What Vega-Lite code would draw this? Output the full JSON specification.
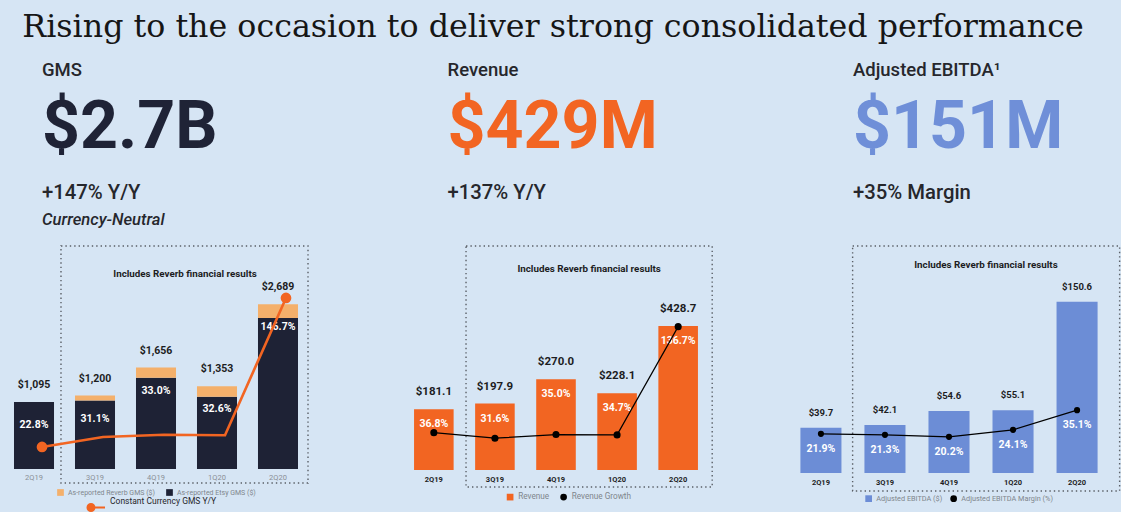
{
  "$schema": "https://vega.github.io/schema/vega-lite/v6.json",
  "background": "#d6e5f4",
  "padding": 0,
  "config": {
    "font": "Roboto",
    "view": {"stroke": null},
    "axis": {"domain": false, "ticks": false, "grid": false, "title": null, "labelAngle": 0, "labelFont": "Roboto"},
    "legend": {"labelFont": "Roboto", "labelColor": "#80858c", "orient": "none", "direction": "horizontal", "title": null, "padding": 0, "symbolSize": 45, "symbolType": "square", "labelOffset": 4, "gridAlign": "none", "rowPadding": 1}
  },
  "datasets": {
    "header": [
      {"panel": "All", "line": "title", "label": "Rising to the occasion to deliver strong consolidated performance"},
      {"panel": "GMS", "line": "name", "label": "GMS"},
      {"panel": "Revenue", "line": "name", "label": "Revenue"},
      {"panel": "EBITDA", "line": "name", "label": "Adjusted EBITDA¹"},
      {"panel": "GMS", "line": "value", "label": "$2.7B"},
      {"panel": "Revenue", "line": "value", "label": "$429M"},
      {"panel": "EBITDA", "line": "value", "label": "$151M"},
      {"panel": "GMS", "line": "change", "label": "+147% Y/Y"},
      {"panel": "Revenue", "line": "change", "label": "+137% Y/Y"},
      {"panel": "EBITDA", "line": "change", "label": "+35% Margin"},
      {"panel": "GMS", "line": "note", "label": "Currency-Neutral"}
    ],
    "gms_parts": [
      {"q": "2Q19", "series": "As-reported Etsy GMS ($)", "value": 1095},
      {"q": "3Q19", "series": "As-reported Etsy GMS ($)", "value": 1120},
      {"q": "3Q19", "series": "As-reported Reverb GMS ($)", "value": 80},
      {"q": "4Q19", "series": "As-reported Etsy GMS ($)", "value": 1491},
      {"q": "4Q19", "series": "As-reported Reverb GMS ($)", "value": 165},
      {"q": "1Q20", "series": "As-reported Etsy GMS ($)", "value": 1178},
      {"q": "1Q20", "series": "As-reported Reverb GMS ($)", "value": 175},
      {"q": "2Q20", "series": "As-reported Etsy GMS ($)", "value": 2465},
      {"q": "2Q20", "series": "As-reported Reverb GMS ($)", "value": 224}
    ],
    "gms": [
      {"q": "2Q19", "total": 1095, "growth": 0.228},
      {"q": "3Q19", "total": 1200, "growth": 0.311},
      {"q": "4Q19", "total": 1656, "growth": 0.330},
      {"q": "1Q20", "total": 1353, "growth": 0.326},
      {"q": "2Q20", "total": 2689, "growth": 1.467}
    ],
    "revenue": [
      {"q": "2Q19", "revenue": 181.1, "growth": 0.368},
      {"q": "3Q19", "revenue": 197.9, "growth": 0.316},
      {"q": "4Q19", "revenue": 270.0, "growth": 0.350},
      {"q": "1Q20", "revenue": 228.1, "growth": 0.347},
      {"q": "2Q20", "revenue": 428.7, "growth": 1.367}
    ],
    "ebitda": [
      {"q": "2Q19", "ebitda": 39.7, "margin": 0.219},
      {"q": "3Q19", "ebitda": 42.1, "margin": 0.213},
      {"q": "4Q19", "ebitda": 54.6, "margin": 0.202},
      {"q": "1Q20", "ebitda": 55.1, "margin": 0.241},
      {"q": "2Q20", "ebitda": 150.6, "margin": 0.351}
    ],
    "note": [{"note": "Includes Reverb financial results"}]
  },
  "bounds": "flush",
  "spacing": 0,
  "resolve": {"scale": {"color": "independent", "stroke": "independent"}, "legend": {"color": "independent", "stroke": "independent"}},
  "vconcat": [
    {
      "width": 1106,
      "height": 246,
      "data": {"name": "header"},
      "encoding": {
        "y": {"field": "line", "type": "nominal", "scale": {"type": "point", "domain": ["title", "name", "value", "change", "note"], "range": [37, 225], "padding": 0}, "axis": null}
      },
      "layer": [
        {
          "transform": [{"filter": "datum.line === 'title'"}],
          "mark": {"type": "text", "font": "DejaVu Serif", "fontSize": 31.7, "align": "center", "baseline": "alphabetic", "color": "#161616"},
          "encoding": {"text": {"field": "label"}}
        },
        {
          "transform": [{"filter": "datum.line === 'name'"}],
          "mark": {"type": "text", "fontSize": 18.5, "fontWeight": 500, "align": "left", "baseline": "alphabetic", "dy": -8, "color": "#26272c"},
          "encoding": {
            "x": {"field": "panel", "type": "nominal", "scale": {"type": "point", "domain": ["GMS", "Revenue", "EBITDA"], "range": [42, 853], "padding": 0}, "axis": null},
            "text": {"field": "label"}
          }
        },
        {
          "transform": [{"filter": "datum.line === 'value'"}],
          "mark": {"type": "text", "fontSize": 66.3, "fontWeight": 700, "align": "left", "baseline": "alphabetic", "dy": 17},
          "encoding": {
            "x": {"field": "panel", "type": "nominal", "scale": {"type": "point", "domain": ["GMS", "Revenue", "EBITDA"], "range": [42, 853], "padding": 0}, "axis": null},
            "text": {"field": "label"},
            "color": {"field": "panel", "type": "nominal", "scale": {"domain": ["GMS", "Revenue", "EBITDA"], "range": ["#1f2336", "#f26522", "#6f8fd8"]}, "legend": null}
          }
        },
        {
          "transform": [{"filter": "datum.line === 'change'"}],
          "mark": {"type": "text", "fontSize": 20.3, "fontWeight": 500, "align": "left", "baseline": "alphabetic", "dy": 21, "color": "#26272c"},
          "encoding": {
            "x": {"field": "panel", "type": "nominal", "scale": {"type": "point", "domain": ["GMS", "Revenue", "EBITDA"], "range": [42, 853], "padding": 0}, "axis": null},
            "text": {"field": "label"}
          }
        },
        {
          "transform": [{"filter": "datum.line === 'note'"}],
          "mark": {"type": "text", "fontSize": 16.6, "fontWeight": 500, "fontStyle": "italic", "align": "left", "baseline": "alphabetic", "color": "#26272c"},
          "encoding": {
            "x": {"field": "panel", "type": "nominal", "scale": {"type": "point", "domain": ["GMS", "Revenue", "EBITDA"], "range": [42, 853], "padding": 0}, "axis": null},
            "text": {"field": "label"}
          }
        }
      ]
    },
    {
      "bounds": "flush",
      "spacing": 88,
      "resolve": {"scale": {"color": "independent", "stroke": "independent"}, "legend": {"color": "independent", "stroke": "independent"}},
      "hconcat": [
        {
          "width": 312,
          "height": 223,
          "encoding": {
            "x": {"field": "q", "type": "nominal", "sort": null, "scale": {"domain": ["2Q19", "3Q19", "4Q19", "1Q20", "2Q20"], "paddingInner": 0.344, "paddingOuter": 0.2295}, "axis": {"labelColor": "#8a8f96", "labelFontSize": 7.5, "labelPadding": 4}}
          },
          "resolve": {"scale": {"y": "independent"}},
          "layer": [
            {
              "layer": [
                {
                  "data": {"name": "gms_parts"},
                  "mark": {"type": "bar"},
                  "encoding": {
                    "y": {"field": "value", "type": "quantitative", "stack": "zero", "scale": {"domain": [0, 3641], "nice": false, "zero": false}, "axis": null},
                    "color": {"field": "series", "type": "nominal", "scale": {"domain": ["As-reported Reverb GMS ($)", "As-reported Etsy GMS ($)"], "range": ["#f4b06b", "#1e2235"]},
                      "legend": {"labelFontSize": 7, "legendX": 57, "legendY": 243, "columnPadding": 11,
                        "encode": {
                          "symbols": {"update": {
                            "shape": {"value": "square"},
                            "fill": {"signal": "datum.value === 'As-reported Reverb GMS ($)' ? '#f4b06b' : '#1e2235'"},
                            "stroke": {"value": "transparent"},
                            "size": {"value": 45},
                            "strokeWidth": {"value": 0},
                            "fillOpacity": {"value": 1}
                          }}
                        }
                      }
                    },
                    "order": {"field": "series", "sort": "ascending"}
                  }
                },
                {
                  "data": {"name": "note"},
                  "mark": {"type": "rect", "filled": false, "stroke": "#5a5f66", "strokeWidth": 1.4, "strokeDash": [1.4, 3]},
                  "encoding": {
                    "x": {"datum": "3Q19", "bandPosition": -0.35},
                    "x2": {"datum": "2Q20", "bandPosition": 1.25},
                    "y": {"datum": 3641, "type": "quantitative", "scale": {"domain": [0, 3641], "nice": false, "zero": false}},
                    "y2": {"datum": -229}
                  }
                },
                {
                  "data": {"name": "note"},
                  "mark": {"type": "text", "fontSize": 9.8, "fontWeight": 700, "baseline": "middle", "align": "center", "color": "#1d1d1f"},
                  "encoding": {
                    "x": {"datum": "4Q19", "bandPosition": 1.225},
                    "y": {"datum": 3184, "type": "quantitative", "scale": {"domain": [0, 3641], "nice": false, "zero": false}},
                    "text": {"field": "note"}
                  }
                },
                {
                  "data": {"name": "gms"},
                  "mark": {"type": "text", "fontSize": 10.5, "fontWeight": 700, "baseline": "middle", "dy": -17, "color": "#1d1d1f"},
                  "encoding": {
                    "y": {"field": "total", "type": "quantitative", "scale": {"domain": [0, 3641], "nice": false, "zero": false}},
                    "text": {"field": "total", "format": "$,.0f"}
                  }
                },
                {
                  "data": {"name": "gms"},
                  "mark": {"type": "text", "fontSize": 10.5, "fontWeight": 700, "baseline": "middle", "dy": 23, "color": "#ffffff"},
                  "encoding": {
                    "y": {"field": "total", "type": "quantitative", "scale": {"domain": [0, 3641], "nice": false, "zero": false}},
                    "text": {"field": "growth", "format": ".1%"}
                  }
                }
              ]
            },
            {
              "data": {"name": "gms"},
              "encoding": {
                "y": {"field": "growth", "type": "quantitative", "scale": {"domain": [0.045, 1.899], "nice": false, "zero": false}, "axis": null}
              },
              "layer": [
                {
                  "mark": {"type": "line", "strokeWidth": 2.6, "xOffset": 8},
                  "encoding": {
                    "stroke": {"datum": "Constant Currency GMS Y/Y", "scale": {"domain": ["Constant Currency GMS Y/Y"], "range": ["#f26522"]},
                      "legend": {"labelFontSize": 8.5, "labelColor": "#26272c", "legendX": 87, "legendY": 252, "labelOffset": 4, "symbolSize": 289,
                        "encode": {
                          "symbols": {"update": {
                            "shape": {"value": "M-1,0H1M-1.06,0a0.41,0.41 0 1,0 0.82,0a0.41,0.41 0 1,0 -0.82,0"},
                            "fill": {"value": "#f26522"},
                            "stroke": {"value": "#f26522"},
                            "strokeWidth": {"value": 2},
                            "size": {"value": 289},
                            "fillOpacity": {"value": 1},
                            "strokeOpacity": {"value": 1}
                          }},
                          "labels": {"update": {"dy": {"value": -7}}}
                        }
                      }
                    }
                  }
                },
                {"transform": [{"filter": {"field": "q", "oneOf": ["2Q19", "2Q20"]}}], "mark": {"type": "circle", "size": 115, "opacity": 1, "xOffset": 8, "color": "#f26522"}}
              ]
            }
          ]
        },
        {
          "bounds": "flush",
          "spacing": 66,
          "resolve": {"scale": {"color": "independent"}, "legend": {"color": "independent"}},
          "hconcat": [
            {
              "width": 312,
              "height": 224,
              "encoding": {
                "x": {"field": "q", "type": "nominal", "sort": null, "scale": {"domain": ["2Q19", "3Q19", "4Q19", "1Q20", "2Q20"], "paddingInner": 0.352, "paddingOuter": 0.23}, "axis": {"labelColor": "#1d1d1f", "labelFontSize": 7.5, "labelFontWeight": 700, "labelPadding": 5}}
              },
              "resolve": {"scale": {"y": "independent"}},
              "layer": [
                {
                  "layer": [
                    {
                      "data": {"name": "revenue"},
                      "mark": {"type": "bar"},
                      "encoding": {
                        "y": {"field": "revenue", "type": "quantitative", "scale": {"domain": [0, 666.7], "nice": false, "zero": false}, "axis": null},
                        "color": {"datum": "Revenue", "scale": {"domain": ["Revenue", "Revenue Growth"], "range": ["#f26522", "#000000"]},
                          "legend": {"labelFontSize": 8.2, "legendX": 106, "legendY": 247, "columnPadding": 9.5,
                            "encode": {"symbols": {"update": {
                              "shape": {"signal": "datum.value === 'Revenue' ? 'square' : 'circle'"},
                              "fill": {"signal": "datum.value === 'Revenue' ? '#f26522' : '#000000'"},
                              "stroke": {"value": "transparent"},
                              "size": {"value": 45},
                              "strokeWidth": {"value": 0},
                              "fillOpacity": {"value": 1}
                            }}}
                          }
                        }
                      }
                    },
                    {
                      "data": {"name": "note"},
                      "mark": {"type": "rect", "filled": false, "stroke": "#5a5f66", "strokeWidth": 1.4, "strokeDash": [1.4, 3]},
                      "encoding": {
                        "x": {"datum": "3Q19", "bandPosition": -0.23},
                        "x2": {"datum": "2Q20", "bandPosition": 1.36},
                        "y": {"datum": 666.7, "type": "quantitative", "scale": {"domain": [0, 666.7], "nice": false, "zero": false}},
                        "y2": {"datum": -50.6}
                      }
                    },
                    {
                      "data": {"name": "note"},
                      "mark": {"type": "text", "fontSize": 9.8, "fontWeight": 700, "baseline": "middle", "align": "center", "color": "#1d1d1f"},
                      "encoding": {
                        "x": {"datum": "4Q19", "bandPosition": 1.337},
                        "y": {"datum": 597, "type": "quantitative", "scale": {"domain": [0, 666.7], "nice": false, "zero": false}},
                        "text": {"field": "note"}
                      }
                    },
                    {
                      "data": {"name": "revenue"},
                      "mark": {"type": "text", "fontSize": 11.5, "fontWeight": 700, "baseline": "middle", "dy": -17, "color": "#1d1d1f"},
                      "encoding": {
                        "y": {"field": "revenue", "type": "quantitative", "scale": {"domain": [0, 666.7], "nice": false, "zero": false}},
                        "text": {"field": "revenue", "format": "$,.1f"}
                      }
                    },
                    {
                      "data": {"name": "revenue"},
                      "mark": {"type": "text", "fontSize": 10.5, "fontWeight": 700, "baseline": "middle", "dy": 15, "color": "#ffffff"},
                      "encoding": {
                        "y": {"field": "revenue", "type": "quantitative", "scale": {"domain": [0, 666.7], "nice": false, "zero": false}},
                        "text": {"field": "growth", "format": ".1%"}
                      }
                    }
                  ]
                },
                {
                  "data": {"name": "revenue"},
                  "encoding": {
                    "y": {"field": "growth", "type": "quantitative", "scale": {"domain": [0.016, 2.127], "nice": false, "zero": false}, "axis": null},
                    "color": {"datum": "Revenue Growth"}
                  },
                  "layer": [
                    {"mark": {"type": "line", "strokeWidth": 1.2}},
                    {"mark": {"type": "circle", "size": 50, "opacity": 1}}
                  ]
                }
              ]
            },
            {
              "width": 342,
              "height": 227,
              "encoding": {
                "x": {"field": "q", "type": "nominal", "sort": null, "scale": {"domain": ["2Q19", "3Q19", "4Q19", "1Q20", "2Q20"], "paddingInner": 0.359, "paddingOuter": 0.35}, "axis": {"labelColor": "#1d1d1f", "labelFontSize": 7.5, "labelFontWeight": 700, "labelPadding": 5}}
              },
              "resolve": {"scale": {"y": "independent"}},
              "layer": [
                {
                  "layer": [
                    {
                      "data": {"name": "ebitda"},
                      "mark": {"type": "bar"},
                      "encoding": {
                        "y": {"field": "ebitda", "type": "quantitative", "scale": {"domain": [0, 199.6], "nice": false, "zero": false}, "axis": null},
                        "color": {"datum": "Adjusted EBITDA ($)", "scale": {"domain": ["Adjusted EBITDA ($)", "Adjusted EBITDA Margin (%)"], "range": ["#6c8dd6", "#000000"]},
                          "legend": {"labelFontSize": 7.3, "legendX": 87, "legendY": 249, "columnPadding": 7,
                            "encode": {"symbols": {"update": {
                              "shape": {"signal": "datum.value === 'Adjusted EBITDA ($)' ? 'square' : 'circle'"},
                              "fill": {"signal": "datum.value === 'Adjusted EBITDA ($)' ? '#6c8dd6' : '#000000'"},
                              "stroke": {"value": "transparent"},
                              "size": {"value": 45},
                              "strokeWidth": {"value": 0},
                              "fillOpacity": {"value": 1}
                            }}}
                          }
                        }
                      }
                    },
                    {
                      "data": {"name": "note"},
                      "mark": {"type": "rect", "filled": false, "stroke": "#5a5f66", "strokeWidth": 1.4, "strokeDash": [1.4, 3]},
                      "encoding": {
                        "x": {"datum": "3Q19", "bandPosition": -0.288},
                        "x2": {"datum": "2Q20", "bandPosition": 1.537},
                        "y": {"datum": 199.6, "type": "quantitative", "scale": {"domain": [0, 199.6], "nice": false, "zero": false}},
                        "y2": {"datum": -15.8}
                      }
                    },
                    {
                      "data": {"name": "note"},
                      "mark": {"type": "text", "fontSize": 9.8, "fontWeight": 700, "baseline": "middle", "align": "center", "color": "#1d1d1f"},
                      "encoding": {
                        "x": {"datum": "4Q19", "bandPosition": 1.4},
                        "y": {"datum": 182.5, "type": "quantitative", "scale": {"domain": [0, 199.6], "nice": false, "zero": false}},
                        "text": {"field": "note"}
                      }
                    },
                    {
                      "data": {"name": "ebitda"},
                      "mark": {"type": "text", "fontSize": 9.5, "fontWeight": 700, "baseline": "middle", "dy": -15, "color": "#1d1d1f"},
                      "encoding": {
                        "y": {"field": "ebitda", "type": "quantitative", "scale": {"domain": [0, 199.6], "nice": false, "zero": false}},
                        "text": {"field": "ebitda", "format": "$,.1f"}
                      }
                    }
                  ]
                },
                {
                  "data": {"name": "ebitda"},
                  "encoding": {
                    "y": {"field": "margin", "type": "quantitative", "scale": {"domain": [0, 1.268], "nice": false, "zero": false}, "axis": null}
                  },
                  "layer": [
                    {"mark": {"type": "line", "strokeWidth": 1.2}, "encoding": {"color": {"datum": "Adjusted EBITDA Margin (%)"}}},
                    {"mark": {"type": "circle", "size": 38, "opacity": 1}, "encoding": {"color": {"datum": "Adjusted EBITDA Margin (%)"}}},
                    {"mark": {"type": "text", "fontSize": 10.5, "fontWeight": 700, "baseline": "middle", "dy": 15, "color": "#ffffff"}, "encoding": {"text": {"field": "margin", "format": ".1%"}}}
                  ]
                }
              ]
            }
          ]
        }
      ]
    }
  ]
}
